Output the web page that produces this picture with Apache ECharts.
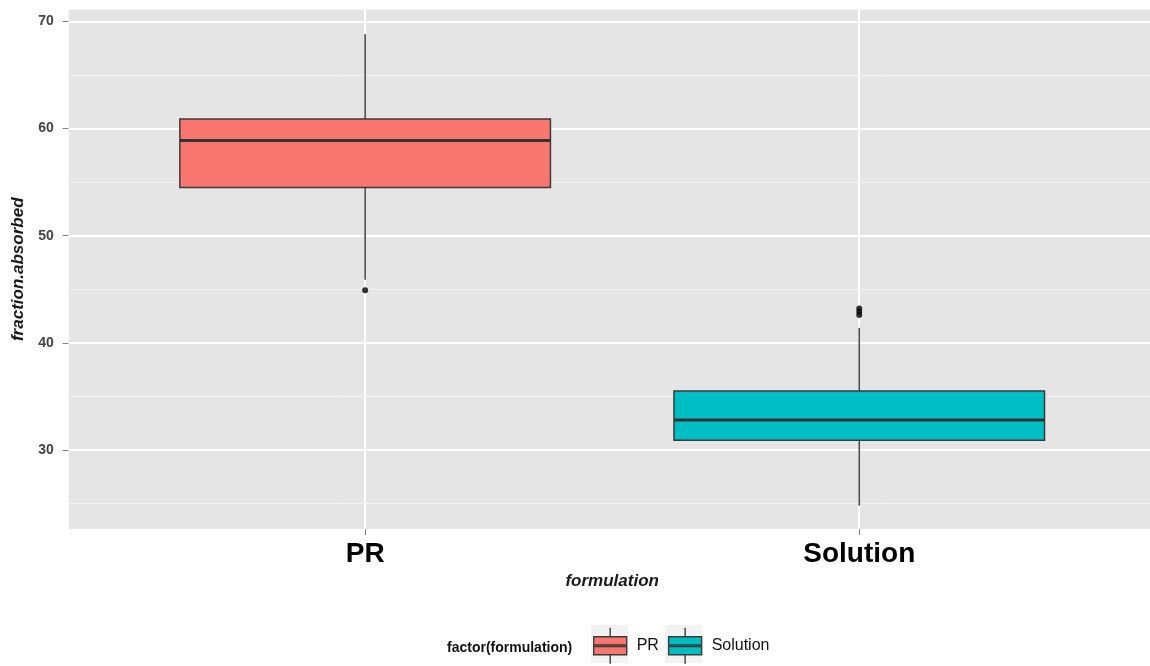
<!DOCTYPE html>
<html>
<head>
<meta charset="utf-8">
<script src="https://cdn.jsdelivr.net/npm/echarts@6/dist/echarts.min.js"></script>
<style>
html,body{margin:0;padding:0;background:#fff;}
#chart{width:1150px;height:666px;}
</style>
</head>
<body>
<div id="chart"></div>
<script>
// ---- data ----
const categories = ['PR', 'Solution'];
const categoryPositions = [1, 2];
// [lower whisker, Q1, median, Q3, upper whisker]
const prBox = [45.9, 54.5, 58.9, 60.9, 68.8];
const solutionBox = [24.8, 30.9, 32.8, 35.5, 41.4];
const prOutliers = [44.9];
const solutionOutliers = [42.6, 42.9, 43.2];
const yMajorTicks = [30, 40, 50, 60, 70];
const yMinorTicks = [25, 35, 45, 55, 65];
const fillColors = ['#F8766D', '#00BFC4'];

const BOX_WIDTH = 0.75;

function boxRenderer(color) {
  return function (params, api) {
    const x = api.value(0);
    const lo = api.coord([x, api.value(1)]);
    const q1 = api.coord([x, api.value(2)]);
    const med = api.coord([x, api.value(3)]);
    const q3 = api.coord([x, api.value(4)]);
    const hi = api.coord([x, api.value(5)]);
    const half = api.size([BOX_WIDTH, 0])[0] / 2;
    const cx = med[0];
    return {
      type: 'group',
      children: [
        { type: 'line', shape: { x1: cx, y1: lo[1], x2: cx, y2: q1[1] }, style: { stroke: '#4d4d4d', lineWidth: 1.6 } },
        { type: 'line', shape: { x1: cx, y1: q3[1], x2: cx, y2: hi[1] }, style: { stroke: '#4d4d4d', lineWidth: 1.6 } },
        { type: 'rect', shape: { x: med[0] - half, y: q3[1], width: half * 2, height: q1[1] - q3[1] },
          style: { fill: color, stroke: '#3a3a3a', lineWidth: 1.5 } },
        { type: 'line', shape: { x1: med[0] - half, y1: med[1], x2: med[0] + half, y2: med[1] },
          style: { stroke: '#333333', lineWidth: 3 } }
      ]
    };
  };
}

const outlierData = [];
prOutliers.forEach(v => outlierData.push([categoryPositions[0], v]));
solutionOutliers.forEach(v => outlierData.push([categoryPositions[1], v]));

const gridLineData = []
  .concat(yMinorTicks.map(v => ({ yAxis: v, lineStyle: { color: '#F2F2F2', width: 1, type: 'solid' } })))
  .concat(yMajorTicks.map(v => ({ yAxis: v, lineStyle: { color: '#FFFFFF', width: 2, type: 'solid' } })))
  .concat(categoryPositions.map(v => ({ xAxis: v, lineStyle: { color: '#FFFFFF', width: 2, type: 'solid' } })));

const boxIcon = 'path://M16.5,0 L16.5,9 M0,9 L33,9 L33,27 L0,27 Z M0,17.2 L33,17.2 L33,18.8 L0,18.8 Z M16.5,27 L16.5,36';

const chart = echarts.init(document.getElementById('chart'), null, { renderer: 'canvas' });
chart.setOption({
  animation: false,
  backgroundColor: '#ffffff',
  textStyle: { fontFamily: 'Liberation Sans, Arial, sans-serif' },
  grid: {
    left: 68.7, top: 9.5, width: 1087, height: 519.5,
    outerBoundsMode: 'none', containLabel: false,
    show: true, backgroundColor: '#E5E5E5', borderWidth: 0
  },
  xAxis: {
    type: 'value', min: 0.4, max: 2.6,
    name: 'formulation', nameLocation: 'middle', nameGap: 41,
    nameTextStyle: { fontSize: 17, fontWeight: 'bold', fontStyle: 'italic', color: '#1a1a1a' },
    axisLine: { show: false },
    axisTick: { show: true, customValues: categoryPositions, length: 6, lineStyle: { color: '#7f7f7f', width: 1 } },
    axisLabel: {
      customValues: categoryPositions, margin: 11,
      formatter: v => categories[Math.round(v) - 1] || '',
      fontSize: 28, fontWeight: 'bold', color: '#000'
    },
    splitLine: { show: false }
  },
  yAxis: {
    type: 'value', min: 22.62, max: 71.12,
    name: 'fraction.absorbed', nameLocation: 'middle', nameGap: 41,
    nameTextStyle: { fontSize: 17, fontWeight: 'bold', fontStyle: 'italic', color: '#1a1a1a' },
    axisLine: { show: false },
    axisTick: { show: true, customValues: yMajorTicks, length: 6, lineStyle: { color: '#7f7f7f', width: 1 } },
    axisLabel: { customValues: yMajorTicks, margin: 15, fontSize: 14, fontWeight: 'bold', color: '#444' },
    splitLine: { show: false }
  },
  legend: {
    left: 593, top: 627, orient: 'horizontal',
    itemWidth: 33, itemHeight: 36, itemGap: 9, padding: 0,
    selectedMode: false,
    textStyle: { fontSize: 16, color: '#111', padding: [0, 0, 0, 5] },
    data: [
      { name: 'PR', icon: boxIcon, itemStyle: { color: fillColors[0], borderColor: '#3a3a3a', borderWidth: 1.4 } },
      { name: 'Solution', icon: boxIcon, itemStyle: { color: fillColors[1], borderColor: '#3a3a3a', borderWidth: 1.4 } }
    ]
  },
  graphic: [
    { type: 'text', left: 447, top: 641, z: 1,
      style: { text: 'factor(formulation)', font: 'bold 14px "Liberation Sans", Arial, sans-serif', fill: '#111' } },
    { type: 'rect', left: 591, top: 625, z: 0, shape: { width: 37, height: 38 }, style: { fill: '#F2F2F2' } },
    { type: 'rect', left: 665, top: 625, z: 0, shape: { width: 37, height: 38 }, style: { fill: '#F2F2F2' } }
  ],
  series: [
    {
      name: 'gridlines', type: 'scatter', data: [], silent: true, z: 1,
      markLine: { silent: true, symbol: 'none', z: 1, label: { show: false }, animation: false, data: gridLineData }
    },
    {
      name: 'PR', type: 'custom', z: 2, renderItem: boxRenderer(fillColors[0]),
      itemStyle: { color: fillColors[0] },
      encode: { x: 0, y: [1, 2, 3, 4, 5] },
      data: [[categoryPositions[0]].concat(prBox)]
    },
    {
      name: 'Solution', type: 'custom', z: 2, renderItem: boxRenderer(fillColors[1]),
      itemStyle: { color: fillColors[1] },
      encode: { x: 0, y: [1, 2, 3, 4, 5] },
      data: [[categoryPositions[1]].concat(solutionBox)]
    },
    {
      name: 'outliers', type: 'scatter', z: 3, symbol: 'circle', symbolSize: 6,
      itemStyle: { color: '#000' },
      data: outlierData
    }
  ]
});
</script>
</body>
</html>
